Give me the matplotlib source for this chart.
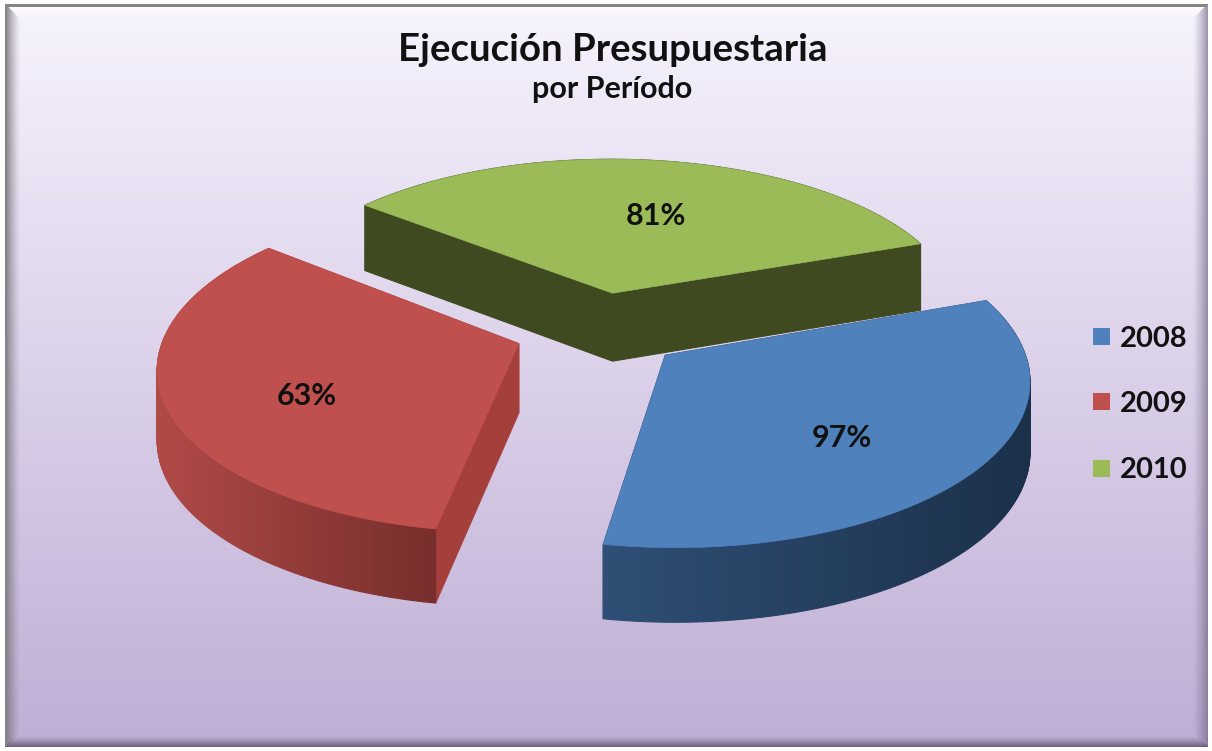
import numpy as np
import matplotlib
matplotlib.use("Agg")
import matplotlib.pyplot as plt
from matplotlib.patches import Polygon, Rectangle
from matplotlib.colors import to_rgb

periods = ["2008", "2009", "2010"]
execution_pct = [97, 63, 81]
slice_degrees = [120, 119, 121]
top_colors = ["#4f81bd", "#c0504d", "#9bbb59"]
cut_colors = ["#2b4a6f", "#a53f3c", "#3f4a20"]
rim_light = ["#2f4f76", "#b04a47", "#4a5a26"]
rim_dark = ["#1b3049", "#772e2c", "#3f4a20"]

W, H = 1212, 751
START = 20.0
CX, CY, R = 599.0, 330.0, 353.0
PERSP, SQUASH, EXPL, DEPTH = 0.13, 0.454, 0.24, 69.0

fig = plt.figure(figsize=(W / 100, H / 100), dpi=100, facecolor="white")
ax = fig.add_axes([0, 0, 1, 1])
ax.set_xlim(0, W)
ax.set_ylim(H, 0)
ax.axis("off")

# background with bevel
L, T, RR, B = 5, 4, 1207, 746
yy, xx = np.mgrid[0:H, 0:W]
t = np.clip((yy - T) / (B - T), 0, 1)[..., None]
c0, c1 = np.array(to_rgb("#f7f3fd")), np.array(to_rgb("#bfaed5"))
img = c0 * (1 - t) + c1 * t
dl, dr, dt, db = xx - L, RR - xx, yy - T, B - yy
dmin = np.minimum.reduce([dl, dr, dt, db])
bev = 15.0


def blend(mask, dist, color, strength, width=bev):
    a = np.clip(1 - dist / width, 0, 1) ** 1.3 * strength
    a = (a * mask)[..., None]
    return img * (1 - a) + np.array(to_rgb(color)) * a


img = blend(dt == dmin, dt, "#ffffff", 1.0)
img = blend(dl == dmin, dl, "#77757c", 0.9)
img = blend(dr == dmin, dr, "#6f6480", 0.65)
img = blend(db == dmin, db, "#5f5470", 0.85, 11.0)
img[(dt < 3) & (dt == dmin)] = to_rgb("#858585")
img[(dl < 2) & (dl == dmin)] = to_rgb("#858585")
img[dmin < 0] = 1.0
ax.imshow(img, extent=(0, W, H, 0), aspect="auto", zorder=0, interpolation="bilinear")
ax.set_xlim(0, W)
ax.set_ylim(H, 0)


def project(x, y, depth=0.0):
    f = 1 + PERSP * y
    return (CX + R * x / f,
            CY - R * SQUASH * y / f + depth / (1 + 0.5 * PERSP * y))


def wedge_path(a0, a1, n=140):
    a = np.radians(np.linspace(a0, a1, n))
    mid = np.radians((a0 + a1) / 2)
    ex, ey = EXPL * np.cos(mid), EXPL * np.sin(mid)
    return ex, ey, ex + np.cos(a), ey + np.sin(a)


angle = START
for i, deg in enumerate(slice_degrees):
    a0, a1 = angle, angle - deg
    angle = a1
    ex, ey, rx, ry = wedge_path(a0, a1)
    faces = []
    for (px, py) in [(rx[0], ry[0]), (rx[-1], ry[-1])]:
        q = [project(ex, ey), project(px, py), project(px, py, DEPTH), project(ex, ey, DEPTH)]
        faces.append((np.mean([p[1] for p in q]), q, cut_colors[i]))
    tx, ty = project(rx, ry)
    cl, cd = np.array(to_rgb(rim_light[i])), np.array(to_rgb(rim_dark[i]))
    xs = tx
    for k in range(len(rx) - 1):
        q = [project(rx[k], ry[k]), project(rx[k + 1], ry[k + 1]),
             project(rx[k + 1], ry[k + 1], DEPTH), project(rx[k], ry[k], DEPTH)]
        mx = (xs[k] + xs[k + 1]) / 2
        if i < 2:
            f = (mx - xs.min()) / (xs.max() - xs.min())
            col = cl * (1 - f) + cd * f
        else:
            col = cd
        faces.append((np.mean([p[1] for p in q]), q, col))
    for _, q, col in sorted(faces, key=lambda z: z[0]):
        ax.add_patch(Polygon(q, closed=True, fc=col, ec=col, lw=0.8, zorder=2 + i * 0.1))
    top = [project(ex, ey)] + list(zip(tx, ty))
    ax.add_patch(Polygon(top, closed=True, fc=top_colors[i], ec=top_colors[i], lw=0.5, zorder=3 + i * 0.1))

FONT = ["Lato", "DejaVu Sans"]
ax.text(613, 50, "Ejecución Presupuestaria", ha="center", va="center", fontsize=27.6,
        fontweight="bold", family=FONT, color="#111111", zorder=5)
ax.text(612, 89, "por Período", ha="center", va="center", fontsize=22,
        fontweight="bold", family=FONT, color="#111111", zorder=5)

label_pos = [(842, 438), (307, 396), (656, 216)]
for (lx, ly), v in zip(label_pos, execution_pct):
    ax.text(lx, ly, f"{v}%", ha="center", va="center", fontsize=22, fontweight="bold",
            family=FONT, color="#111111", zorder=5)

for (ly, name, col) in zip([336.5, 401.5, 468], periods, top_colors):
    ax.add_patch(Rectangle((1093, ly - 8.5), 17, 17, fc=col, ec="none", zorder=5))
    ax.text(1120, ly + 2.5, name, ha="left", va="center", fontsize=21, fontweight="bold",
            family=FONT, color="#111111", zorder=5)

fig.savefig("out.png", dpi=100)
